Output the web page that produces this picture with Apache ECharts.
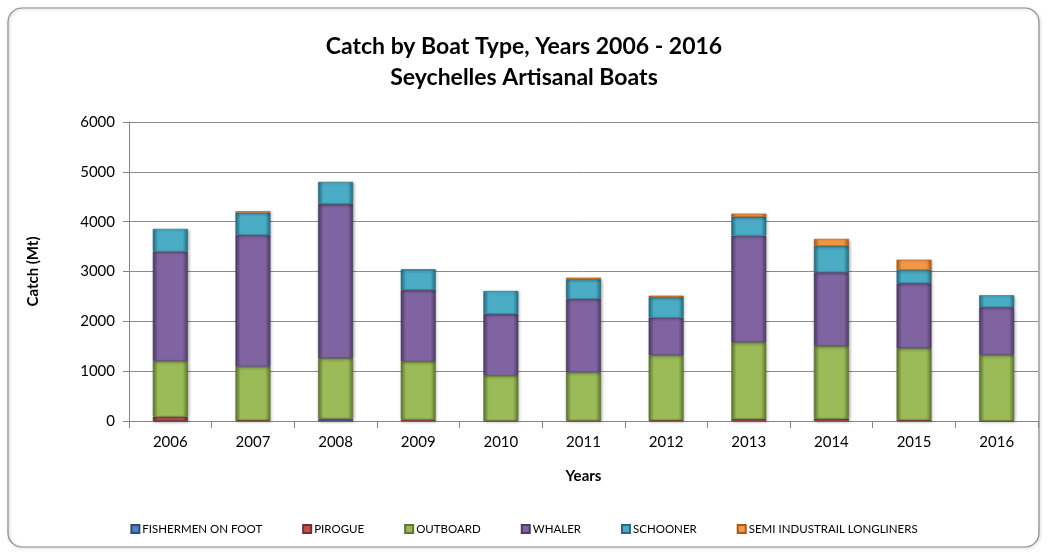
<!DOCTYPE html>
<html><head><meta charset="utf-8">
<script src="https://cdn.jsdelivr.net/npm/echarts@6/dist/echarts.min.js"></script>
<style>html,body{margin:0;padding:0;background:#fff}#c{width:1048px;height:555px}</style>
</head><body><div id="c"></div>
<script>
const years = ['2006','2007','2008','2009','2010','2011','2012','2013','2014','2015','2016'];
const fishermenOnFoot = [5, 0, 28, 0, 0, 0, 0, 0, 0, 0, 0];
const pirogue = [80, 15, 20, 30, 8, 10, 15, 40, 45, 20, 5];
const outboard = [1120, 1075, 1210, 1160, 900, 967, 1303, 1539, 1460, 1439, 1320];
const whaler = [2195, 2643, 3097, 1439, 1238, 1472, 755, 2140, 1479, 1305, 957];
const schooner = [455, 448, 442, 406, 462, 395, 410, 381, 528, 267, 241];
const semiIndustrial = [0, 28, 0, 10, 0, 32, 32, 61, 141, 206, 0];
const seriesNames = ['FISHERMEN ON FOOT','PIROGUE','OUTBOARD','WHALER','SCHOONER','SEMI INDUSTRAIL LONGLINERS'];
const seriesData = [fishermenOnFoot, pirogue, outboard, whaler, schooner, semiIndustrial];
const colors = ['#4F81BD','#C0504D','#9BBB59','#8064A2','#4BACC6','#F79646'];
const darks = ['#2c4d74','#772c2a','#5e7530','#4d3b63','#276c7e','#a85a1c'];
const font = 'Lato, "Open Sans", "Liberation Sans", sans-serif';

const chart = echarts.init(document.getElementById('c'), null, {renderer:'canvas'});
chart.setOption({
  animation:false,
  backgroundColor:'#fff',
  graphic:[{type:'rect',shape:{x:8,y:8,width:1031,height:539,r:14},style:{fill:'none',stroke:'#8a8a8a',lineWidth:1.2,shadowColor:'rgba(0,0,0,0.25)',shadowBlur:3,shadowOffsetX:1,shadowOffsetY:1},z:-1}],
  title:{text:'Catch by Boat Type, Years 2006 - 2016\nSeychelles Artisanal Boats',left:'center',top:26,
    textStyle:{fontFamily:font,fontSize:23,fontWeight:'bold',color:'#000',lineHeight:31}},
  color:colors,
  legend:{bottom:15,left:'center',itemWidth:8,itemHeight:8,itemGap:40,icon:'rect',
    textStyle:{fontFamily:font,fontSize:11.5,color:'#000',padding:[0,0,0,-2]},data:seriesNames},
  grid:{left:129,right:10,top:122,bottom:134},
  xAxis:{type:'category',data:years,name:'Years',nameLocation:'middle',nameGap:48,
    nameTextStyle:{fontFamily:font,fontSize:15,fontWeight:'bold',color:'#000'},
    axisLine:{lineStyle:{color:'#868686'}},axisTick:{show:true,length:7,lineStyle:{color:'#868686'}},
    axisLabel:{fontFamily:font,fontSize:15,color:'#000',margin:14}},
  yAxis:{type:'value',min:0,max:6000,interval:1000,name:'Catch (Mt)',nameLocation:'middle',nameGap:88,
    nameTextStyle:{fontFamily:font,fontSize:15,fontWeight:'bold',color:'#000'},
    axisLine:{show:true,lineStyle:{color:'#868686'}},axisTick:{show:true,length:6,lineStyle:{color:'#868686'}},
    splitLine:{lineStyle:{color:'#8c8c8c'}},
    axisLabel:{fontFamily:font,fontSize:15,color:'#000',margin:14,formatter:v=>String(v)}},
  series: seriesData.map((d,i)=>({
    name:seriesNames[i],type:'bar',stack:'total',data:d.map(v=>v===0?'-':v),barWidth:35,
    itemStyle:{
      color:new echarts.graphic.LinearGradient(0,0,1,0,[{offset:0,color:darks[i]},{offset:0.15,color:colors[i]},{offset:0.85,color:colors[i]},{offset:1,color:darks[i]}]),
      borderColor:darks[i],borderWidth:0.6,
      shadowColor:'rgba(0,0,0,0.3)',shadowBlur:3,shadowOffsetX:1,shadowOffsetY:1
    }
  }))
});
</script></body></html>
